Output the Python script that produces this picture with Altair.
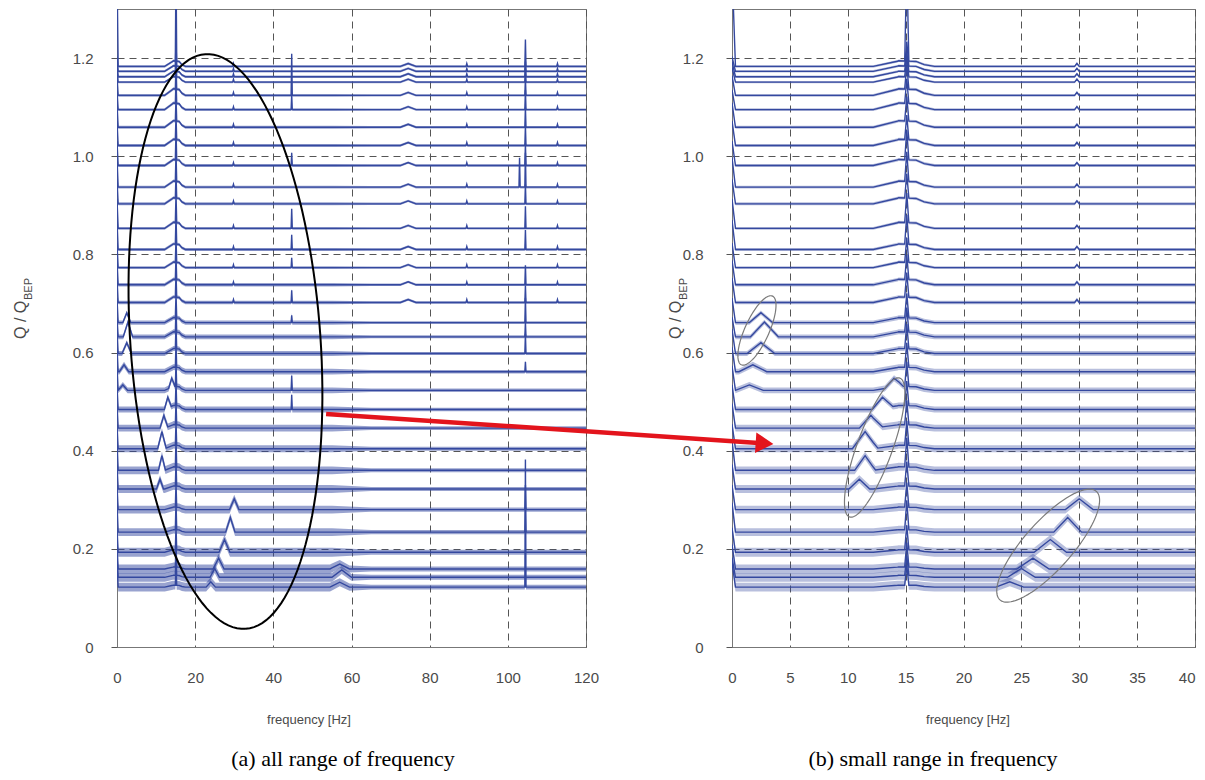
import math
import pandas as pd
import altair as alt

# ---------------- data ----------------
# baseline level (Q/Q_BEP) of each spectrum, bottom to top
baselines = [0.122, 0.142, 0.159, 0.193, 0.234, 0.280, 0.322, 0.360, 0.404, 0.446,
             0.484, 0.523, 0.561, 0.598, 0.632, 0.661, 0.702, 0.738, 0.773, 0.810,
             0.853, 0.903, 0.937, 0.981, 1.022, 1.059, 1.095, 1.124, 1.151, 1.162,
             1.173, 1.183]
# height of the DC (0 Hz) spike of each spectrum
dc_heights = [0.05, 0.04, 0.05, 0.05, 0.06, 0.05, 0.05, 0.06, 0.05, 0.05,
              0.05, 0.05, 0.05, 0.05, 0.04, 0.05, 0.05, 0.05, 0.05, 0.06,
              0.06, 0.05, 0.06, 0.05, 0.05, 0.05, 0.04, 0.04, 0.03, 0.03,
              0.03, 0.20]
# height of the rotating-frequency spike (15.1 Hz)
spike15_heights = [0.04, 0.04, 0.05, 0.05, 0.06, 0.05, 0.05, 0.06, 0.05, 0.05,
                   0.05, 0.05, 0.05, 0.05, 0.05, 0.05, 0.05, 0.05, 0.05, 0.06,
                   0.06, 0.05, 0.06, 0.06, 0.05, 0.05, 0.05, 0.05, 0.04, 0.04,
                   0.05, 0.20]
# broad skirt around the 15 Hz spike
skirt15_heights = [0.004, 0.004, 0.004, 0.005, 0.005, 0.005, 0.006, 0.007, 0.007, 0.007,
                   0.008, 0.008, 0.009, 0.010, 0.010, 0.010, 0.011, 0.011, 0.011, 0.011,
                   0.012, 0.012, 0.012, 0.012, 0.012, 0.013, 0.013, 0.013, 0.011, 0.011,
                   0.011, 0.011]
# fluctuation half-amplitude of each spectrum below ~55 Hz and above ~65 Hz
noise_low = [0.009, 0.009, 0.009, 0.009, 0.008, 0.008, 0.008, 0.008, 0.007, 0.007,
             0.006, 0.006, 0.006, 0.005, 0.005, 0.0045, 0.0035, 0.0035, 0.003, 0.003,
             0.003, 0.003, 0.003, 0.003, 0.003, 0.003, 0.003, 0.003, 0.0025, 0.0025,
             0.0025, 0.0025]
noise_high = [0.005, 0.005, 0.005, 0.005, 0.0045, 0.0045, 0.004, 0.004, 0.004, 0.004,
              0.0035, 0.0035, 0.0035, 0.003, 0.003, 0.003, 0.0025, 0.0025, 0.0025, 0.0025,
              0.0025, 0.0025, 0.0025, 0.0025, 0.0025, 0.0025, 0.0025, 0.0025, 0.0025, 0.0025,
              0.0025, 0.0025]

# individual peaks: spectrum index, frequency [Hz], height, half width [Hz]
peak_trace = [15, 14, 13, 12, 11,
              6, 7, 8, 9, 10, 11,
              5, 4, 3, 2, 1, 0,
              0, 1, 2,
              27, 26, 23, 20, 19, 18, 16, 15, 11, 10,
              31, 30, 29, 28, 27, 26, 25, 24, 23, 22, 22, 21, 20, 19, 17, 16, 15, 14, 13, 12, 5, 4, 0]
peak_freq = [2.5, 2.8, 2.5, 1.8, 1.5,
             11.0, 11.5, 11.5, 12.0, 13.0, 14.0,
             30.0, 29.0, 27.5, 26.0, 25.0, 24.0,
             57.0, 57.5, 57.0,
             44.7, 44.7, 44.7, 44.7, 44.7, 44.7, 44.7, 44.7, 44.7, 44.7,
             104.5, 104.5, 104.5, 104.5, 104.5, 104.5, 104.5, 104.5, 104.5, 104.5, 103.0, 104.5,
             104.5, 104.5, 104.5, 104.5, 104.5, 104.5, 104.5, 104.5, 104.5, 104.5, 104.5]
peak_height = [0.020, 0.030, 0.022, 0.014, 0.011,
               0.020, 0.030, 0.035, 0.026, 0.022, 0.018,
               0.022, 0.030, 0.026, 0.022, 0.018, 0.011,
               0.010, 0.015, 0.010,
               0.085, 0.030, 0.026, 0.040, 0.030, 0.020, 0.025, 0.015, 0.030, 0.030,
               0.055, 0.020, 0.020, 0.030, 0.035, 0.040, 0.040, 0.040, 0.045, 0.070, 0.060, 0.040,
               0.045, 0.040, 0.040, 0.035, 0.050, 0.030, 0.040, 0.020, 0.050, 0.050, 0.260]
peak_halfwidth = [1.0, 1.2, 1.2, 1.2, 1.2,
                  0.9, 0.9, 1.1, 1.0, 0.9, 0.8,
                  1.2, 1.2, 1.4, 1.4, 1.2, 1.2,
                  2.5, 2.5, 2.5,
                  0.15, 0.15, 0.15, 0.15, 0.15, 0.15, 0.15, 0.15, 0.15, 0.15,
                  0.15, 0.15, 0.15, 0.15, 0.15, 0.15, 0.15, 0.15, 0.15, 0.15, 0.15, 0.15,
                  0.15, 0.15, 0.15, 0.15, 0.15, 0.15, 0.15, 0.15, 0.15, 0.15, 0.15]
# small harmonic ticks and the 75 Hz hump on the upper spectra
harmonic_traces = list(range(16, 32))
harmonic_freqs = [29.8, 89.5, 112.7]
harmonic_height = 0.006
hump75_freq = 74.5
hump75_height = 0.006

# annotation ellipses (major-axis end points in data units, minor/major ratio)
left_ellipse = [(22.6, 1.208, 32.9, 0.037, 0.33)]
right_ellipses = [(3.50, 0.715, 0.81, 0.575, 0.32),
                  (14.5, 0.548, 10.15, 0.265, 0.24),
                  (23.15, 0.096, 31.48, 0.317, 0.33)]
arrow_start_left = (53.5, 0.475)   # in the left panel
arrow_tip_right = (3.5, 0.414)     # in the right panel

y_ticks = [0, 0.2, 0.4, 0.6, 0.8, 1.0, 1.2]
left_xticks = [0, 20, 40, 60, 80, 100, 120]
right_xticks = [0, 5, 10, 15, 20, 25, 30, 35, 40]

# ---------------- layout / style ----------------
BLUE = "#34489f"
LEFT_W, RIGHT_W, PLOT_H = 469, 463, 638
GAP = 146
Y_MAX = 1.3
FONT = "Liberation Sans"
LABEL_COLOR = "#4a4a4a"
GRID_COLOR = "#555555"

# ---------------- build the spectra ----------------
rows = []
for i, base in enumerate(baselines):
    feats = [(0.0, dc_heights[i], 0.3),
             (15.1, spike15_heights[i], 0.18),
             (14.4, skirt15_heights[i], 2.2),
             (15.9, skirt15_heights[i] * 0.6, 1.6)]
    for t, f, h, w in zip(peak_trace, peak_freq, peak_height, peak_halfwidth):
        if t == i:
            feats.append((f, h, w))
    if i in harmonic_traces:
        for f in harmonic_freqs:
            feats.append((f, harmonic_height, 0.2))
        feats.append((hump75_freq, hump75_height, 2.0))
    xs = {0.0, 55.0, 65.0, 120.0}
    for f, h, w in feats:
        xs.update([f - w, f, f + w])
    xs = sorted(x for x in xs if 0.0 <= x <= 120.0)
    for x in xs:
        q = base + sum(max(0.0, h * (1 - abs(x - f) / w)) for f, h, w in feats)
        t = min(1.0, max(0.0, (x - 55.0) / 10.0))
        nz = noise_low[i] * (1 - t) + noise_high[i] * t
        rows.append({"trace": i, "f": round(x, 4), "q": q, "lo": q - nz, "hi": q + nz})
spec = pd.DataFrame(rows)


def ellipse_df(specs, kx, ky, n=140):
    out = []
    for e, (f1, q1, f2, q2, ratio) in enumerate(specs):
        X1, Y1, X2, Y2 = f1 * kx, q1 * ky, f2 * kx, q2 * ky
        cx, cy = (X1 + X2) / 2, (Y1 + Y2) / 2
        a = math.hypot(X2 - X1, Y2 - Y1) / 2
        b = a * ratio
        ang = math.atan2(Y2 - Y1, X2 - X1)
        for k in range(n + 1):
            th = 2 * math.pi * k / n
            X = cx + a * math.cos(th) * math.cos(ang) - b * math.sin(th) * math.sin(ang)
            Y = cy + a * math.cos(th) * math.sin(ang) + b * math.sin(th) * math.cos(ang)
            out.append({"e": e, "k": k, "f": X / kx, "q": Y / ky})
    return pd.DataFrame(out)


kx_left, kx_right, ky = LEFT_W / 120.0, RIGHT_W / 40.0, PLOT_H / Y_MAX

# arrow: from left panel to right panel, drawn in the right panel's coordinates
start_px = arrow_start_left[0] * kx_left - (LEFT_W + GAP)   # relative to right plot origin
tip_px = arrow_tip_right[0] * kx_right
sy = PLOT_H - arrow_start_left[1] * ky
ty = PLOT_H - arrow_tip_right[1] * ky
dx, dy = tip_px - start_px, ty - sy
L = math.hypot(dx, dy)
ux, uy = dx / L, dy / L
shaft_end = (tip_px - 14 * ux, ty - 14 * uy)
head_c = (tip_px - 8 * ux, ty - 8 * uy)
arrow_line = pd.DataFrame({
    "f": [start_px / kx_right, shaft_end[0] / kx_right],
    "q": [arrow_start_left[1], (PLOT_H - shaft_end[1]) / ky],
    "k": [0, 1]})
arrow_head = pd.DataFrame({"f": [head_c[0] / kx_right], "q": [(PLOT_H - head_c[1]) / ky]})
arrow_angle = math.degrees(math.atan2(dy, dx))


def text_layer(txt, x, y, size, angle=0, align="center", baseline="middle",
               font=FONT, color=LABEL_COLOR):
    return alt.Chart(pd.DataFrame({"t": [txt]})).mark_text(
        font=font, fontSize=size, angle=angle, align=align, baseline=baseline,
        color=color).encode(text="t:N", x=alt.value(x), y=alt.value(y))


def panel(xmax, width, xticks, title_dx, xtitle_x, caption, caption_x, label_pad_y,
          band_opacity, extra):
    x_axis = alt.Axis(values=xticks, title=None, grid=True, ticks=False, tickSize=0,
                      labelPadding=23, labelFontSize=15, labelFont=FONT,
                      labelColor=LABEL_COLOR, gridDash=[7, 5], gridColor=GRID_COLOR,
                      gridWidth=1, gridOpacity=1, domainColor="#777777",
                      labelAlign={"condition": {"test": f"datum.value == {xmax}", "value": "right"},
                                  "value": "center"} if xmax == 40 else "center")
    y_axis = alt.Axis(values=y_ticks, title=None, grid=True, tickSize=6, tickColor=GRID_COLOR,
                      labelPadding=label_pad_y, labelFontSize=15, labelFont=FONT,
                      labelColor=LABEL_COLOR, gridDash=[7, 5], gridColor=GRID_COLOR,
                      gridWidth=1, gridOpacity=1, domainColor="#777777",
                      labelExpr="datum.value == 0 ? '0' : format(datum.value, '.1f')")
    xs = alt.Scale(domain=[0, xmax], nice=False, zero=False)
    ys = alt.Scale(domain=[0, Y_MAX], nice=False, zero=False)
    band = alt.Chart(spec).mark_area(clip=True, color=BLUE, opacity=band_opacity).encode(
        x=alt.X("f:Q", scale=xs, axis=x_axis),
        y=alt.Y("lo:Q", scale=ys, axis=y_axis),
        y2="hi:Q", detail="trace:N")
    line = alt.Chart(spec).mark_line(clip=True, color=BLUE, strokeWidth=1.4).encode(
        x="f:Q", y="q:Q", detail="trace:N")
    layers = [band, line] + extra + [
        text_layer("Q / Q", title_dx, 330, 16, angle=270, align="left", baseline="alphabetic"),
        text_layer("BEP", title_dx + 6, 291, 11, angle=270, align="left", baseline="alphabetic"),
        text_layer("frequency [Hz]", xtitle_x, 711, 13),
        text_layer(caption, caption_x, 750, 22, font="Liberation Serif", color="#000000"),
    ]
    return alt.layer(*layers).properties(width=width, height=PLOT_H)


left_extra = [
    alt.Chart(ellipse_df(left_ellipse, kx_left, ky)).mark_line(
        color="#000000", strokeWidth=2).encode(
        x="f:Q", y="q:Q", detail="e:N", order="k:Q"),
    alt.Chart(pd.DataFrame({"a": [0]})).mark_rect(opacity=0).encode(
        x=alt.value(-108), x2=alt.value(-104), y=alt.value(0), y2=alt.value(4)),
]
right_extra = [
    alt.Chart(ellipse_df(right_ellipses, kx_right, ky)).mark_line(
        color="#7a7a7a", strokeWidth=1.2).encode(
        x="f:Q", y="q:Q", detail="e:N", order="k:Q"),
    alt.Chart(arrow_line).mark_line(color="#e3141c", strokeWidth=4.5).encode(
        x="f:Q", y="q:Q", order="k:Q"),
    alt.Chart(arrow_head).mark_point(shape="triangle-right", filled=True, size=420,
                                     color="#e3141c", opacity=1,
                                     angle=arrow_angle).encode(x="f:Q", y="q:Q"),
]

left = panel(120, LEFT_W, left_xticks, -91, 192, "(a) all range of frequency", 226, 18,
             0.5, left_extra)
right = panel(40, RIGHT_W, right_xticks, -51, 236, "(b) small range in frequency", 201, 23,
              0.35, right_extra)

chart = alt.hconcat(left, right, spacing=GAP, bounds="flush").properties(
    padding={"left": 0, "top": 0, "right": 0, "bottom": 0}
).configure_view(stroke="#777777", strokeWidth=1)

chart.save("out.html", embed_options={"renderer": "svg", "actions": False})
